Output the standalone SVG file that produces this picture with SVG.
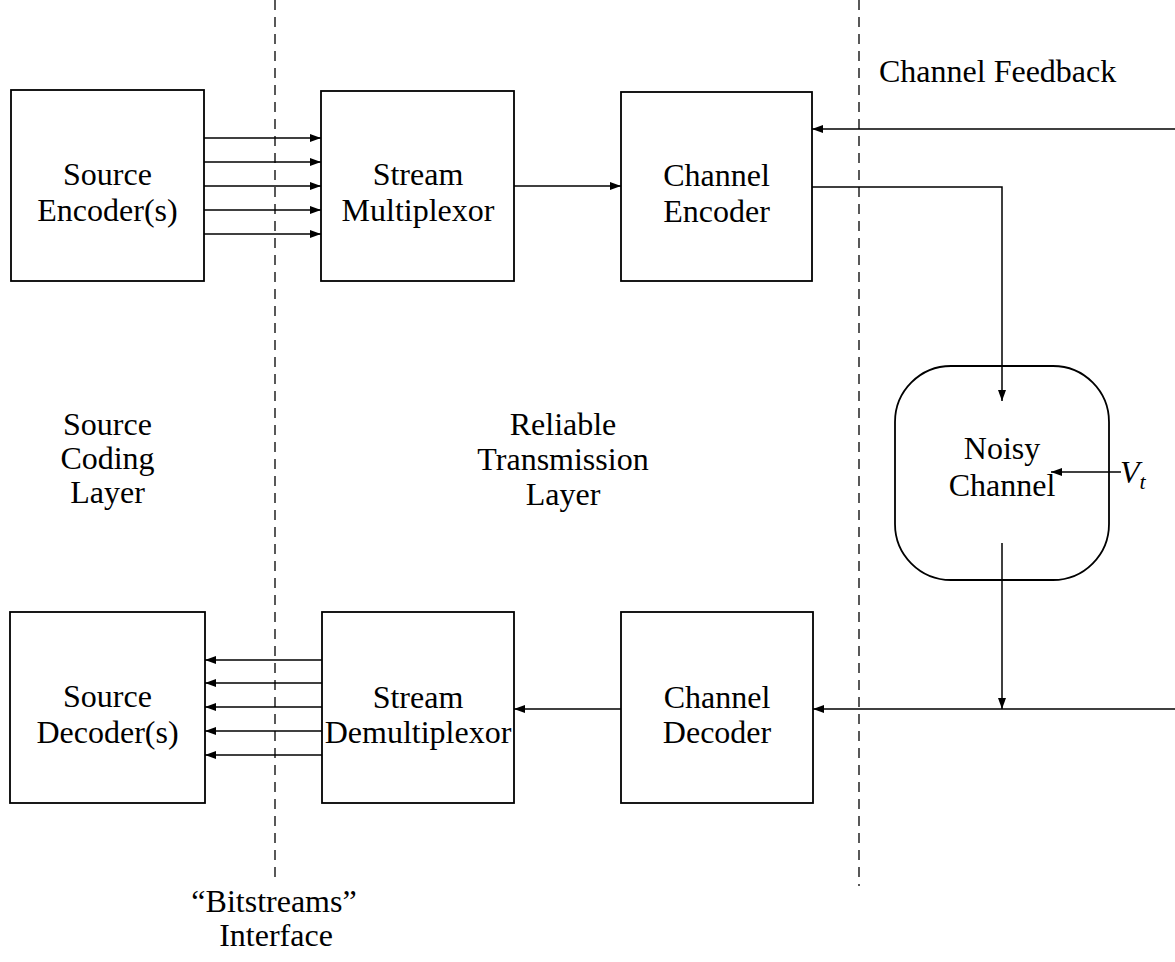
<svg xmlns="http://www.w3.org/2000/svg" width="1175" height="962" viewBox="0 0 1175 962">
  <style>
    .box { fill: #fff; stroke: #000; stroke-width: 1.8; }
    .arrow { fill: none; stroke: #000; stroke-width: 1.5; marker-end: url(#head); }
    .divider { fill: none; stroke: #000; stroke-width: 1.3; stroke-dasharray: 10 7; }
    text { font-family: "Liberation Serif", "Times New Roman", serif; font-size: 32px; fill: #000; text-anchor: middle; }
    .left { text-anchor: start; }
    .ital { font-style: italic; }
  </style>
  <defs>
    <marker id="head" markerUnits="userSpaceOnUse" markerWidth="11" markerHeight="8" refX="11" refY="4" orient="auto">
      <path d="M0,0 L11,4 L0,8 z" fill="#000"/>
    </marker>
  </defs>

  <rect width="1175" height="962" fill="#fff"/>

  <!-- layer boundaries -->
  <g id="dividers">
    <line class="divider" x1="275" y1="0" x2="275" y2="880"/>
    <line class="divider" x1="859" y1="0" x2="859" y2="886"/>
  </g>

  <g id="source-encoder">
    <rect class="box" x="11" y="90" width="193" height="191"/>
    <text x="107.5" y="185">Source</text>
    <text x="107.5" y="221">Encoder(s)</text>
  </g>

  <g id="stream-multiplexor">
    <rect class="box" x="321" y="91" width="193" height="190"/>
    <text x="418" y="185">Stream</text>
    <text x="418" y="221">Multiplexor</text>
  </g>

  <g id="channel-encoder">
    <rect class="box" x="621" y="92" width="191" height="189"/>
    <text x="716.5" y="186">Channel</text>
    <text x="716.5" y="222">Encoder</text>
  </g>

  <g id="noisy-channel">
    <rect class="box" x="895" y="366" width="214" height="214" rx="56" ry="56"/>
    <text x="1002" y="459">Noisy</text>
    <text x="1002" y="496">Channel</text>
  </g>

  <g id="noise-label">
    <text class="left ital" x="1120" y="483">V<tspan font-size="22" dy="6">t</tspan></text>
  </g>

  <g id="source-decoder">
    <rect class="box" x="10" y="612" width="195" height="191"/>
    <text x="107.5" y="707">Source</text>
    <text x="107.5" y="743">Decoder(s)</text>
  </g>

  <g id="stream-demultiplexor">
    <rect class="box" x="322" y="612" width="192" height="191"/>
    <text x="418" y="708">Stream</text>
    <text x="418" y="743">Demultiplexor</text>
  </g>

  <g id="channel-decoder">
    <rect class="box" x="621" y="612" width="192" height="191"/>
    <text x="717" y="708">Channel</text>
    <text x="717" y="743">Decoder</text>
  </g>

  <!-- connectors, drawn over the boxes -->
  <g id="connectors">
    <!-- source encoders to multiplexor -->
    <line class="arrow" x1="204" y1="138" x2="321" y2="138"/>
    <line class="arrow" x1="204" y1="162" x2="321" y2="162"/>
    <line class="arrow" x1="204" y1="186" x2="321" y2="186"/>
    <line class="arrow" x1="204" y1="210" x2="321" y2="210"/>
    <line class="arrow" x1="204" y1="234" x2="321" y2="234"/>
    <!-- multiplexor to channel encoder -->
    <line class="arrow" x1="514" y1="186" x2="621" y2="186"/>
    <!-- channel feedback -->
    <line class="arrow" x1="1175" y1="129" x2="812" y2="129"/>
    <!-- channel encoder into noisy channel -->
    <path class="arrow" d="M812,187 H1002 V401"/>
    <!-- noise input -->
    <line class="arrow" x1="1121" y1="472" x2="1051" y2="472"/>
    <!-- noisy channel output -->
    <line class="arrow" x1="1002" y1="543" x2="1002" y2="709"/>
    <!-- received signal to channel decoder -->
    <line class="arrow" x1="1175" y1="709" x2="813" y2="709"/>
    <!-- channel decoder to demultiplexor -->
    <line class="arrow" x1="621" y1="709" x2="514" y2="709"/>
    <!-- demultiplexor to source decoders -->
    <line class="arrow" x1="322" y1="660" x2="205" y2="660"/>
    <line class="arrow" x1="322" y1="683" x2="205" y2="683"/>
    <line class="arrow" x1="322" y1="707" x2="205" y2="707"/>
    <line class="arrow" x1="322" y1="731" x2="205" y2="731"/>
    <line class="arrow" x1="322" y1="755" x2="205" y2="755"/>
  </g>

  <!-- layer and interface captions -->
  <g id="labels">
    <text class="left" x="879" y="82">Channel Feedback</text>
    <text x="107.5" y="435">Source</text>
    <text x="107.5" y="469">Coding</text>
    <text x="107.5" y="503">Layer</text>
    <text x="563" y="435">Reliable</text>
    <text x="563" y="470">Transmission</text>
    <text x="563" y="505">Layer</text>
    <text x="274" y="912">“Bitstreams”</text>
    <text x="276" y="946">Interface</text>
  </g>
</svg>
